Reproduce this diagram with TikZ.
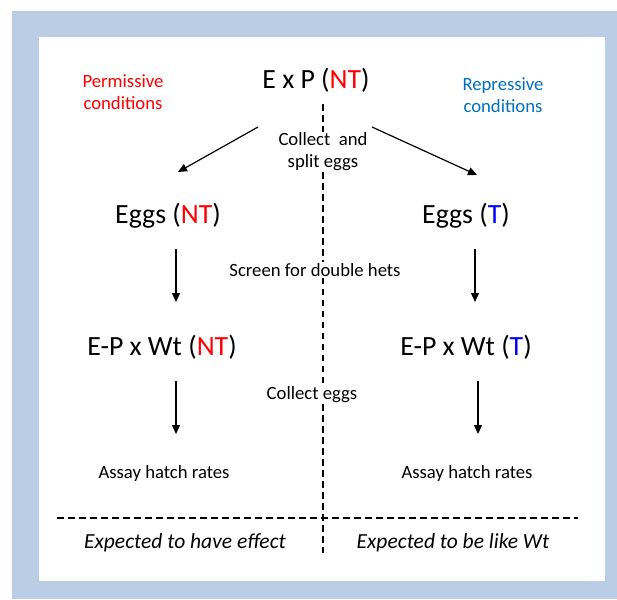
\documentclass[tikz,border=0pt]{standalone}
\usepackage{fontspec}
\setmainfont{Carlito}
\usetikzlibrary{arrows.meta}
\definecolor{frameblue}{HTML}{B9CDE5}
\definecolor{condred}{HTML}{FF0000}
\definecolor{condblue}{HTML}{0070C0}
\definecolor{tblue}{HTML}{0000FF}
\tikzset{
  big/.style={font=\fontsize{27.8}{32}\selectfont, inner sep=0pt},
  small/.style={font=\fontsize{18.7}{22}\selectfont, align=center, inner sep=1pt},
  ital/.style={font=\fontsize{21.5}{25}\selectfont\itshape, inner sep=0pt},
  arr/.style={line width=1.2pt, -{Triangle[length=9pt,width=8pt]}},
  dashline/.style={line width=1.2pt, dash pattern=on 6.5pt off 4.5pt},
}
\begin{document}
\begin{tikzpicture}[x=1pt,y=-1pt]
\useasboundingbox (0,0) rectangle (617,599);
\fill[frameblue] (12,11) rectangle (617,599);
\fill[white] (39,37) rectangle (605,581);
% texts
\node[small, text=condred] (perm) at (123,92) {Permissive\\conditions};
\node[small, text=condblue] (repr) at (503,95) {Repressive\\conditions};
\node[big] (exp) at (316,80) {E x P (\textcolor{condred}{NT})};
\node[small] (collect) at (323,152) {Collect\ \ and\\split eggs};
\node[big] (eggsl) at (168,216) {Eggs (\textcolor{condred}{NT})};
\node[big] (eggsr) at (466,216) {Eggs (\textcolor{tblue}{T})};
\node[small] (screen) at (315,270) {Screen for double hets};
\node[big] (epl) at (162,347) {E-P x Wt (\textcolor{condred}{NT})};
\node[big] (epr) at (466,347) {E-P x Wt (\textcolor{tblue}{T})};
\node[small] (ceggs) at (312,395) {Collect eggs};
\node[small] (assl) at (164,474) {Assay hatch rates};
\node[small] (assr) at (467,474) {Assay hatch rates};
\node[ital] (effl) at (185,543) {Expected to have effect};
\node[ital] (effr) at (453,543) {Expected to be like Wt};
% arrow coordinates
\coordinate (a1s) at (258,127); \coordinate (a1e) at (178,172);
\coordinate (a2s) at (372,127); \coordinate (a2e) at (477,175);
\coordinate (b1s) at (176,249); \coordinate (b1e) at (176,302);
\coordinate (b2s) at (475,249); \coordinate (b2e) at (475,302);
\coordinate (c1s) at (176,381); \coordinate (c1e) at (176,434);
\coordinate (c2s) at (478,381); \coordinate (c2e) at (478,434);
\draw[arr] (a1s) -- (a1e);
\draw[arr] (a2s) -- (a2e);
\draw[arr] (b1s) -- (b1e);
\draw[arr] (b2s) -- (b2e);
\draw[arr] (c1s) -- (c1e);
\draw[arr] (c2s) -- (c2e);
% dashed lines
\coordinate (vtop) at (323,104);
\coordinate (vbot) at (323,553);
\coordinate (hl) at (57,518);
\coordinate (hr) at (578,518);
\draw[dashline] (vtop) -- (collect.north -| vtop);
\draw[dashline] (collect.south -| vtop) -- (screen.north -| vtop);
\draw[dashline] (screen.south -| vtop) -- (ceggs.north -| vtop);
\draw[dashline] (ceggs.south -| vtop) -- (vbot);
\draw[dashline] (hl) -- (hr);
\end{tikzpicture}
\end{document}
